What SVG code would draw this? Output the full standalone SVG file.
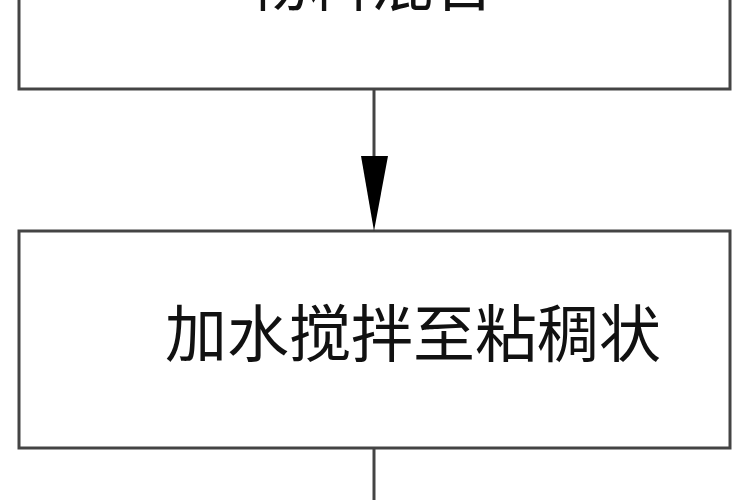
<svg xmlns="http://www.w3.org/2000/svg" width="750" height="500" viewBox="0 0 750 500">
<style>
.box{fill:#fff;stroke:#444;stroke-width:3}
.lbl{font-family:"Noto Sans CJK SC","Noto Sans",sans-serif;font-size:62px;fill:#111}
.edge{stroke:#444;stroke-width:3;fill:none}
</style>
<rect width="750" height="500" fill="#fff"/>
<g id="node1">
<rect class="box" x="19" y="-20" width="711" height="109"/>
<text class="lbl" x="247" y="6">物料混合</text>
</g>
<g id="node2">
<rect class="box" x="19" y="231" width="711" height="217"/>
<text class="lbl" x="165" y="357">加水搅拌至粘稠状</text>
</g>
<g id="connectors">
<line class="edge" x1="374" y1="89" x2="374" y2="160"/>
<polygon points="361,156 388,156 374,231" fill="#000"/>
<line class="edge" x1="374" y1="448" x2="374" y2="502"/>
</g>
</svg>
